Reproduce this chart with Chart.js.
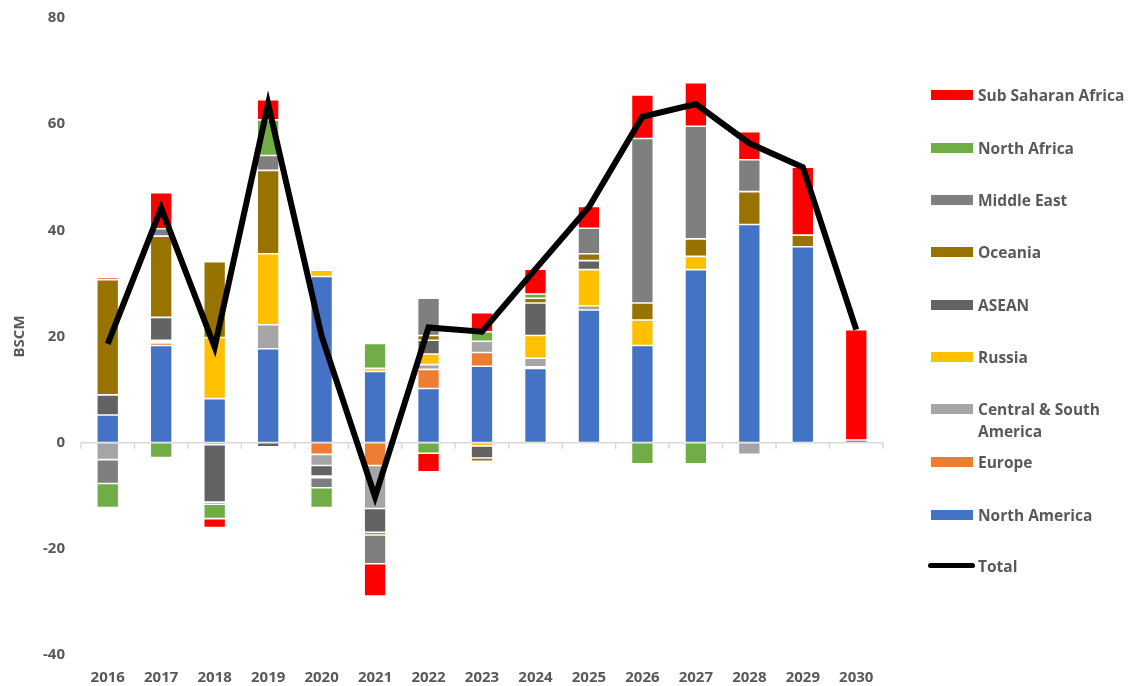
<!DOCTYPE html>
<html>
<head>
<meta charset="utf-8">
<script src="https://cdn.jsdelivr.net/npm/chart.js@4.4.1/dist/chart.umd.min.js"></script>
<style>
  html, body { margin: 0; padding: 0; background: #fff; }
  #wrap { position: relative; width: 1131px; height: 686px; }
  #leyenda { position: absolute; left: 928px; top: 0; font-family: "Open Sans", sans-serif; font-weight: bold; font-size: 15.5px; color: #595959; }
  .item { position: absolute; left: 0; width: 203px; white-space: nowrap; line-height: 22px; }
  .item span.sw { position: absolute; left: 3px; top: 6px; width: 42px; height: 10px; }
  .item span.tx { position: absolute; left: 50px; top: 0; }
  .item.total span.sw { left: 0; top: 8px; width: 47px; height: 5px; border-radius: 3px; }
</style>
</head>
<body>
<div id="wrap">
  <canvas id="grafico" width="1131" height="686"></canvas>
  <div id="leyenda"></div>
</div>
<script>
// Datos (BSCM)
const anios = ['2016','2017','2018','2019','2020','2021','2022','2023','2024','2025','2026','2027','2028','2029','2030'];

const northAmerica = [5.2, 18.3, 8.3, 17.7, 31.3, 13.4, 10.2, 14.4, 14.0, 25.0, 18.3, 32.6, 41.1, 36.9, 0.5];
const europe       = [0, 0.5, 0, 0, -2.2, -4.3, 3.6, 2.6, 0.3, 0, 0, 0, 0, 0, 0];
const centralSouth = [-3.2, 0.2, -0.4, 4.5, -2.1, -8.1, 0.9, 2.1, 1.6, 0.8, 0, 0, -2.2, 0, 0];
const russia       = [0, 0.3, 11.5, 13.4, 1.2, 0.6, 2.0, -0.6, 4.3, 6.8, 4.8, 2.5, 0, 0, 0];
const asean        = [3.8, 4.3, -10.8, -0.8, -2.0, -4.5, 2.6, -2.3, 6.1, 1.7, 0, 0, 0, 0, 0];
const oceania      = [21.7, 15.3, 14.3, 15.7, -0.3, -0.5, 0.9, -0.6, 0.9, 1.3, 3.2, 3.3, 6.2, 2.2, 0];
const middleEast   = [-4.5, 1.4, -0.4, 2.8, -1.9, -5.4, 7.0, 0, 0, 4.8, 31.0, 21.2, 6.0, 0, 0];
const northAfrica  = [-4.5, -2.8, -2.7, 6.7, -3.7, 4.7, -2.0, 1.8, 0.8, 0, -4.0, -4.0, 0, 0, 0];
const subSaharan   = [0.4, 6.8, -1.7, 3.8, -0.3, -6.1, -3.5, 3.6, 4.7, 4.1, 8.2, 8.2, 5.3, 12.8, 20.8];
const total        = [18.6, 44.2, 18.0, 63.8, 20.1, -10.2, 21.7, 20.9, 32.7, 44.4, 61.4, 63.8, 56.4, 51.9, 21.3];

const ticksY = [-40, -20, 0, 20, 40, 60, 80];

// series en orden de apilado (desde el cero hacia afuera)
const series = [
    { label: 'North America', data: northAmerica, color: '#4472C4' },
    { label: 'Europe', data: europe, color: '#ED7D31' },
    { label: ['Central & South', 'America'], data: centralSouth, color: '#A5A5A5' },
    { label: 'Russia', data: russia, color: '#FFC000' },
    { label: 'ASEAN', data: asean, color: '#636363' },
    { label: 'Oceania', data: oceania, color: '#997300' },
    { label: 'Middle East', data: middleEast, color: '#7F7F7F' },
    { label: 'North Africa', data: northAfrica, color: '#70AD47' },
    { label: 'Sub Saharan Africa', data: subSaharan, color: '#FF0000' }
];

const datasets = series.map(s => ({
    type: 'bar',
    label: Array.isArray(s.label) ? s.label.join(' ') : s.label,
    data: s.data.map(v => v === 0 ? null : v),
    backgroundColor: s.color,
    borderColor: 'rgba(255,255,255,0.45)',
    borderWidth: 0.8,
    borderSkipped: false,
    stack: 'regiones',
    categoryPercentage: 1,
    barPercentage: 0.41,
    order: 1
}));

datasets.push({
    type: 'line',
    label: 'Total',
    data: total,
    borderColor: '#000',
    borderWidth: 6,
    pointRadius: 0,
    tension: 0,
    stack: 'total',
    order: 0
});

// linea del cero con marcas de categoria
const lineaCero = {
    id: 'lineaCero',
    beforeDatasetsDraw(chart) {
        const { ctx, scales: { x, y } } = chart;
        const y0 = y.getPixelForValue(0);
        ctx.save();
        ctx.strokeStyle = '#D9D9D9';
        ctx.lineWidth = 1.5;
        ctx.beginPath();
        ctx.moveTo(x.left, y0);
        ctx.lineTo(x.right, y0);
        const paso = (x.right - x.left) / anios.length;
        for (let i = 0; i <= anios.length; i++) {
            const px = x.left + paso * i;
            ctx.moveTo(px, y0);
            ctx.lineTo(px, y0 + 6);
        }
        ctx.stroke();
        ctx.restore();
    }
};

const fuente = { family: '"Open Sans", sans-serif', size: 15, weight: 'bold' };

const ctx = document.getElementById('grafico').getContext('2d');
new Chart(ctx, {
    data: { labels: anios, datasets: datasets },
    options: {
        responsive: false,
        animation: false,
        layout: { padding: { top: 18, right: 248, bottom: 1, left: 0 } },
        plugins: { legend: { display: false }, tooltip: { enabled: false } },
        scales: {
            x: {
                stacked: true,
                afterFit: scale => { scale.height = 30; scale.paddingLeft = 0; scale.paddingRight = 0; },
                grid: { display: false, drawTicks: false },
                border: { display: false },
                ticks: { color: '#595959', font: fuente, padding: 14, maxRotation: 0 }
            },
            y: {
                stacked: true,
                min: -40, max: 80,
                afterBuildTicks: scale => { scale.ticks = ticksY.map(v => ({ value: v })); },
                afterFit: scale => { scale.width = 81; scale.paddingTop = 0; scale.paddingBottom = 0; },
                grid: { display: false, drawTicks: false },
                border: { display: false },
                ticks: { color: '#595959', font: fuente, padding: 16 },
                title: { display: true, text: 'BSCM', color: '#595959', font: fuente, padding: { top: 11, bottom: 0 } }
            }
        }
    },
    plugins: [lineaCero]
});

// Leyenda en HTML (orden inverso al apilado, luego Total)
const leyenda = document.getElementById('leyenda');
const posY = [95, 148, 200, 252, 305, 357, 409, 462, 515];
series.slice().reverse().forEach((s, i) => {
    const div = document.createElement('div');
    div.className = 'item';
    div.style.top = (posY[i] - 11) + 'px';
    const texto = Array.isArray(s.label) ? s.label.join('<br>') : s.label;
    div.innerHTML = '<span class="sw" style="background:' + s.color + '"></span><span class="tx">' + texto + '</span>';
    leyenda.appendChild(div);
});
const divTotal = document.createElement('div');
divTotal.className = 'item total';
divTotal.style.top = (566 - 11) + 'px';
divTotal.innerHTML = '<span class="sw" style="background:#000"></span><span class="tx">Total</span>';
leyenda.appendChild(divTotal);
</script>
</body>
</html>
